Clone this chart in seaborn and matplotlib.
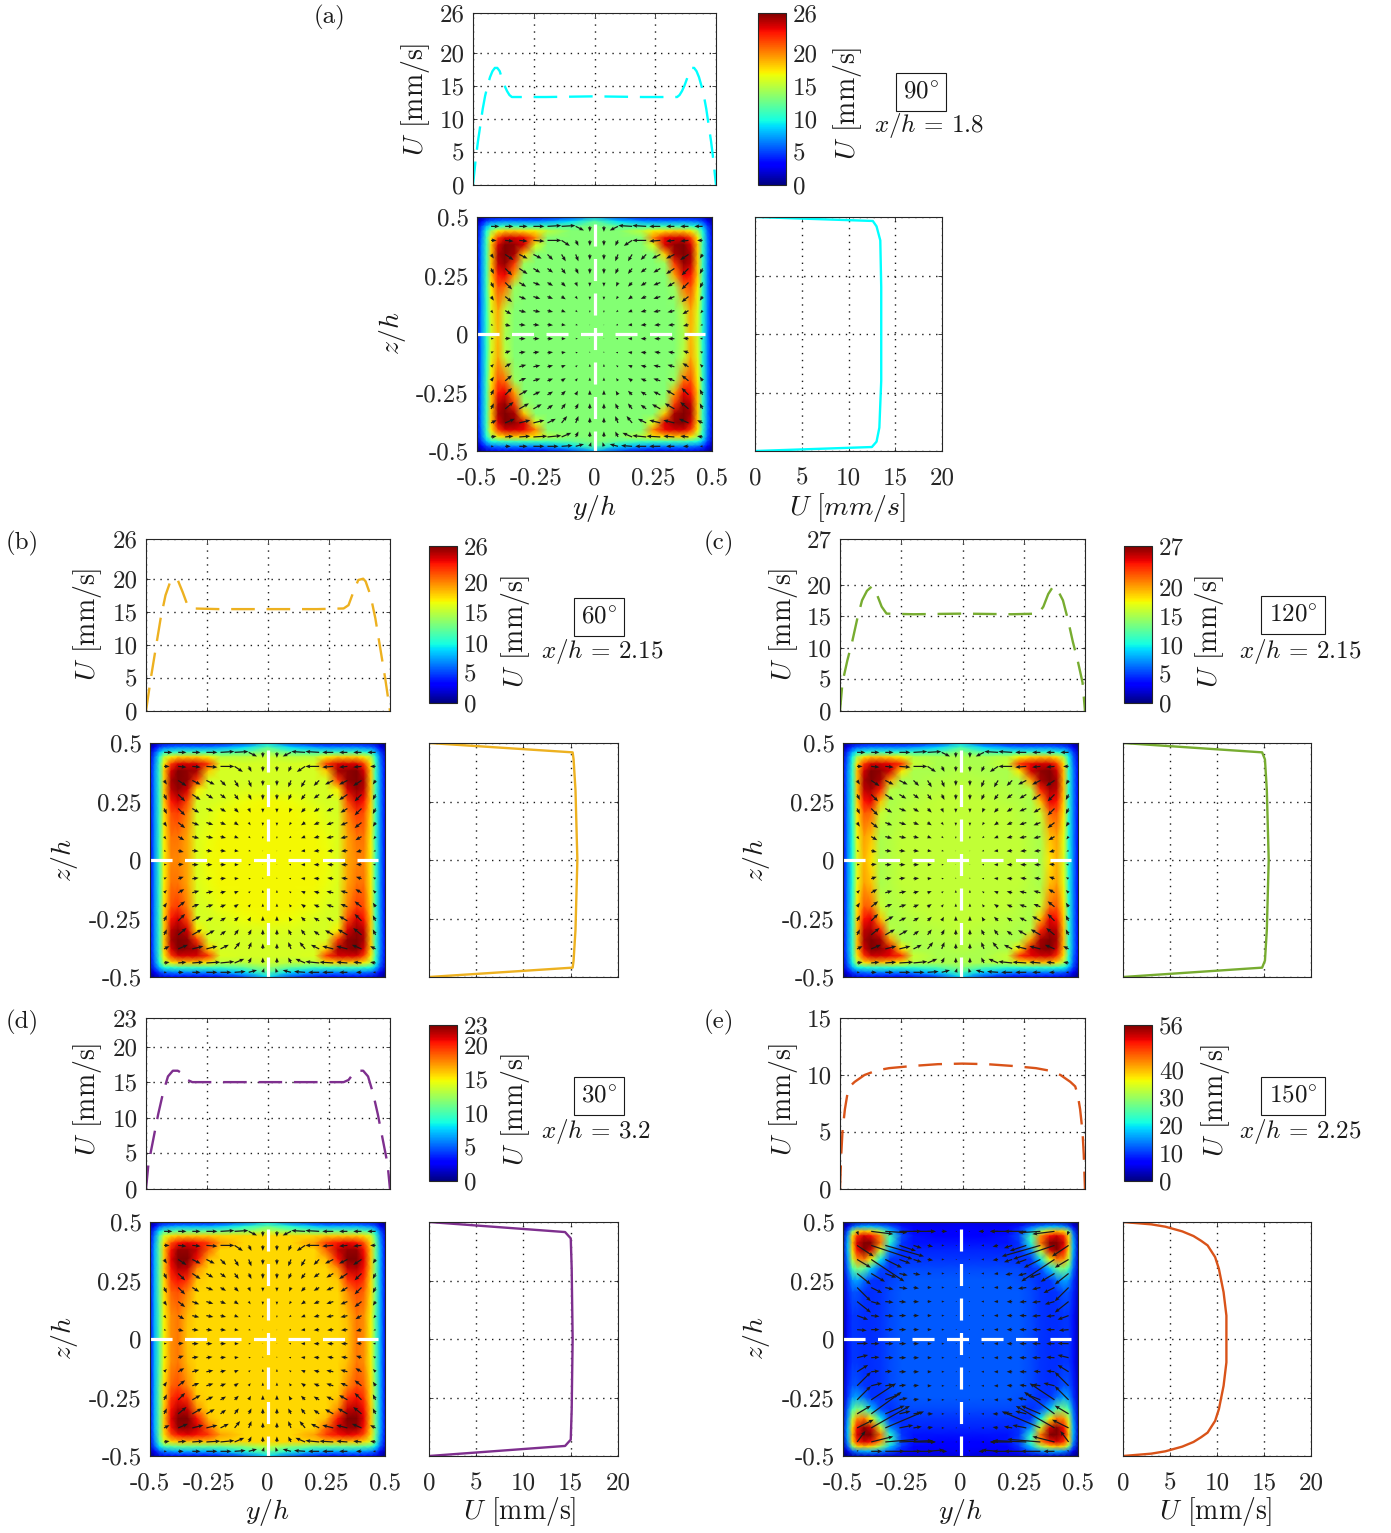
import matplotlib
matplotlib.use('Agg')
import matplotlib.pyplot as plt
import numpy as np
import seaborn as sns

sns.set_theme(style='ticks')
plt.rcParams['font.family'] = 'cmr10'
plt.rcParams['mathtext.fontset'] = 'cm'
plt.rcParams['axes.formatter.use_mathtext'] = True
plt.rcParams['axes.unicode_minus'] = False

W, H = 1391, 1533

# ---- line profiles: U along y at z=0 (dashed) and along z at y=0 (solid)
y_a = [-.5, -.49, -.48, -.47, -.46, -.45, -.44, -.43, -.42, -.41, -.40, -.39, -.38, -.37, -.36, -.35, -.34, -.2, 0,
       .2, .34, .35, .36, .37, .38, .39, .40, .41, .42, .43, .44, .45, .46, .47, .48, .49, .5]
u_a = [0, 3.5, 6.5, 9, 11.5, 13.5, 15, 16.3, 17.2, 17.7, 17.7, 17.2, 16, 15, 14.2, 13.6, 13.3, 13.3, 13.4,
       13.3, 13.3, 13.6, 14.2, 15, 16, 17.2, 17.7, 17.7, 17.2, 16.3, 15, 13.5, 11.5, 9, 6.5, 3.5, 0]
y_b = [-.5, -.48, -.46, -.44, -.42, -.40, -.39, -.37, -.35, -.33, -.31, -.2, 0,
       .2, .31, .33, .35, .37, .39, .40, .42, .44, .46, .48, .5]
u_b = [0, 5, 9.5, 14, 17.5, 19.6, 20, 19.8, 18, 16, 15.5, 15.4, 15.4,
       15.4, 15.5, 16, 18, 19.8, 20, 19.6, 17.5, 14, 9.5, 5, 0]
y_c = [-.5, -.49, -.47, -.45, -.43, -.41, -.39, -.37, -.35, -.33, -.31, -.2, 0,
       .2, .31, .33, .35, .37, .39, .41, .43, .45, .47, .49, .5]
u_c = [0, 4.5, 8, 11, 14.5, 17.5, 19, 19.7, 18.5, 16.5, 15.4, 15.3, 15.4,
       15.3, 15.4, 16.5, 18.5, 19.7, 19, 17.5, 14.5, 11, 8, 4.5, 0]
y_d = [-.5, -.49, -.47, -.45, -.43, -.41, -.39, -.37, -.35, -.33, -.31, -.2, 0,
       .2, .31, .33, .35, .37, .39, .41, .43, .45, .47, .49, .5]
u_d = [0, 3.5, 7, 10.5, 13.5, 15.8, 16.6, 16.6, 16.2, 15.3, 15, 15, 15,
       15, 15, 15.3, 16.2, 16.6, 16.6, 15.8, 13.5, 10.5, 7, 3.5, 0]
y_e = [-.5, -.495, -.49, -.48, -.47, -.46, -.44, -.42, -.40, -.35, -.3, -.2, -.1, 0,
       .1, .2, .3, .35, .40, .42, .44, .46, .47, .48, .49, .495, .5]
u_e = [0, 3, 5, 7, 8.3, 9, 9.4, 9.7, 10, 10.4, 10.6, 10.8, 10.95, 11,
       10.95, 10.8, 10.6, 10.4, 10, 9.7, 9.4, 9, 8.3, 7, 5, 3, 0]

z_a = [-.5, -.483, -.46, -.40, -.2, 0, .2, .40, .46, .483, .5]
w_a = [0, 12.5, 13, 13.3, 13.5, 13.5, 13.5, 13.4, 13, 12.6, 0]
z_b = [-.5, -.46, -.43, -.3, 0, .3, .43, .46, .5]
w_b = [0, 15.2, 15.3, 15.5, 15.7, 15.5, 15.3, 15.2, 0]
z_c = [-.5, -.46, -.43, -.3, 0, .3, .43, .46, .5]
w_c = [0, 14.8, 15.1, 15.3, 15.5, 15.3, 15.1, 14.8, 0]
z_d = [-.5, -.457, -.43, -.3, 0, .3, .43, .457, .5]
w_d = [0, 14.4, 15, 15.1, 15.2, 15.1, 15, 14.4, 0]
z_e = [-.5, -.49, -.48, -.46, -.44, -.42, -.40, -.35, -.3, -.2, -.1, 0,
       .1, .2, .3, .35, .40, .42, .44, .46, .48, .49, .5]
w_e = [0, 3, 4.5, 6.3, 7.5, 8.3, 9, 9.8, 10.2, 10.7, 11, 11,
       11, 10.7, 10.2, 9.8, 9, 8.3, 7.5, 6.3, 4.5, 3, 0]

# ---- U field, one corner quadrant per case
wall_dist = [0, .02, .04, .06, .09, .12, .16, .20, .25, .30, .40, .50]
field_a = [
    [0, 1, 2, 2.5, 3, 3, 3, 3, 3, 3.5, 5, 8],
    [1, 3, 5, 6, 6.5, 7, 7, 7, 7, 7.5, 9, 12],
    [2, 5, 8, 10, 10.5, 11, 11, 11, 11, 11, 12, 13.3],
    [2.5, 6, 10, 14, 17, 18, 18, 17.5, 17, 15, 13.3, 13.3],
    [3, 6.5, 11, 17, 22, 24, 24, 23.5, 20, 13.3, 13.3, 13.3],
    [3, 7, 11, 18, 24, 26, 25.5, 24, 16, 13.3, 13.3, 13.3],
    [3, 7, 11, 18, 25, 26, 25, 18, 13.3, 13.3, 13.3, 13.3],
    [3, 7, 11, 18, 24.5, 25.5, 22, 14, 13.3, 13.3, 13.3, 13.3],
    [3, 7, 11, 18, 23, 23.5, 19, 13.3, 13.3, 13.3, 13.3, 13.3],
    [3, 7, 11, 17, 21.5, 20.5, 14, 13.3, 13.3, 13.3, 13.3, 13.3],
    [3, 7, 10.5, 16, 19, 15, 13.3, 13.3, 13.3, 13.3, 13.3, 13.3],
    [3, 7, 10.5, 15.5, 18.5, 14.5, 13.3, 13.3, 13.3, 13.3, 13.3, 13.3],
]
field_b = [
    [0, 1, 2, 2.5, 3, 3, 3, 3, 3, 3.5, 5, 9],
    [1, 3, 5, 6, 6.5, 7, 7, 7, 7, 7.5, 9, 12],
    [2, 5, 8, 10, 10.5, 11, 11, 11, 11, 11, 12, 14],
    [2.5, 6, 10, 15, 17, 18, 18, 18, 17, 15, 15, 15.5],
    [3, 6.5, 11, 17, 22, 24, 24, 24, 22, 16, 15.8, 15.8],
    [3, 7, 11, 18, 24, 26, 25.5, 25, 18, 15.8, 15.8, 15.8],
    [3, 7, 11, 18, 25, 26, 25.5, 22, 15.8, 15.8, 15.8, 15.8],
    [3, 7, 11, 18, 24.5, 25.5, 24, 17, 15.8, 15.8, 16, 16],
    [3, 7, 11, 18, 23, 24, 21.5, 15.8, 15.8, 16, 16.6, 16.8],
    [3, 7, 11, 17.5, 21.5, 22, 20, 15.8, 16, 16.6, 16.8, 16.8],
    [3, 7, 11, 17, 20.5, 20.5, 19, 16, 16.5, 16.8, 16.8, 16.8],
    [3, 7, 11, 17, 20, 20, 19, 16, 16.7, 16.8, 16.8, 16.8],
]
field_c = [
    [0, 1, 2, 2.5, 3, 3, 3, 3, 3, 3.5, 5, 9],
    [1, 3, 5, 6, 6.5, 7, 7, 7, 7, 7.5, 9, 12],
    [2, 5, 8, 10, 10.5, 11, 11, 11, 11, 11, 12, 14],
    [2.5, 6, 10, 15, 18, 19, 19, 18.5, 17.5, 15.5, 15, 15],
    [3, 6.5, 11, 18, 23, 25, 25, 24.5, 23, 16, 15, 15],
    [3, 7, 11, 19, 25, 27, 26.5, 25, 18, 15, 15, 15.3],
    [3, 7, 11, 19, 26, 27, 26, 20, 15, 15, 15.3, 15.5],
    [3, 7, 11, 19, 25.5, 26, 23.5, 15.5, 15, 15.3, 15.5, 15.8],
    [3, 7, 11, 18.5, 24, 24.5, 19, 15, 15.3, 15.5, 15.8, 15.8],
    [3, 7, 11, 18, 22, 21.5, 16, 15.2, 15.5, 15.8, 15.8, 15.8],
    [3, 7, 10.5, 17, 20, 19, 15, 15.3, 15.8, 15.8, 15.8, 15.8],
    [3, 7, 10.5, 16.5, 19.5, 18, 15, 15.3, 15.8, 15.8, 15.8, 15.8],
]
field_d = [
    [0, 1, 2, 2.5, 3, 3, 3, 3, 3, 3.5, 5, 8],
    [1, 3, 5, 6, 6.5, 7, 7, 7, 7, 7.5, 9, 11],
    [2, 5, 8, 10, 10.5, 11, 11, 11, 11, 11, 12, 13.5],
    [2.5, 6, 10, 14, 15.5, 16, 16, 16, 16, 15.7, 15.7, 15.7],
    [3, 6.5, 11, 15.5, 19, 20.5, 21, 20.5, 19.5, 17, 15.7, 15.7],
    [3, 7, 11, 16, 20.5, 22.5, 22.5, 21.5, 18.5, 15.7, 15.7, 15.7],
    [3, 7, 11, 16, 21, 23, 23, 20.5, 16.3, 15.7, 15.7, 15.7],
    [3, 7, 11, 16, 20.5, 22, 21.5, 17.5, 15.7, 15.7, 15.7, 15.7],
    [3, 7, 11, 15.5, 19.5, 20.5, 19.5, 16, 15.7, 15.7, 15.7, 15.7],
    [3, 7, 11, 15.5, 18.5, 19, 17.5, 15.7, 15.7, 15.7, 15.7, 15.7],
    [3, 7, 10.5, 15, 17.5, 18, 16.3, 15.7, 15.7, 15.7, 15.7, 15.7],
    [3, 7, 10.5, 15, 17.5, 18, 16, 15.7, 15.7, 15.7, 15.7, 15.7],
]
field_e = [
    [0, 1, 2, 3, 3.5, 4, 4, 4, 4, 4, 4.5, 5],
    [1, 6, 12, 15, 17, 17, 15, 12, 8, 6, 5.5, 6],
    [2, 12, 28, 38, 40, 38, 30, 18, 10, 7, 6.5, 6.5],
    [3, 15, 38, 48, 52, 50, 42, 24, 11, 8, 7, 7],
    [3.5, 17, 40, 52, 56, 56, 44, 22, 10, 8, 8, 8],
    [3.5, 17, 38, 50, 56, 52, 34, 15, 9.5, 9, 9, 9],
    [3.5, 15, 33, 42, 44, 36, 20, 10, 9.5, 10, 10, 10],
    [3.5, 13, 24, 28, 26, 18, 11, 9.5, 11, 11, 11, 11],
    [3.5, 10, 15, 16, 13, 10, 9.5, 10.5, 11.5, 12, 12, 12],
    [3.5, 9, 11.5, 11.5, 10, 9.5, 10, 11, 12, 12, 12, 12],
    [3, 8, 10, 10, 9.5, 9.5, 10, 11, 12, 12, 12, 12],
    [3, 8, 10, 10, 9.5, 9.5, 10, 11, 12, 12, 12, 12],
]

# ---- secondary flow arrows, left half (right half is mirrored), in 1/100 h
arrow_y = [-.44, -.38, -.32, -.26, -.20, -.14, -.08, -.02]
arrow_z = [.46, .40, .34, .28, .22, .16, .10, .04, -.02, -.08, -.14, -.20, -.26, -.32, -.38, -.44, -.48]
du_jet = [
    [3, 3, 3, 4, 5, 5, 3, 0],
    [2, 3, 3, 4, 5, 3, 1, 0],
    [1, 3, 3, 3, 2, 1.5, 1, 0],
    [1, 2.5, 3, 2.5, 2, 1.5, 1, 0],
    [1, 2.5, 2.5, 2.5, 2, 1.5, .7, 0],
    [1, 2.5, 2.5, 2.5, 2, 1.5, .7, 0],
    [.8, 2.2, 2.5, 2.5, 2, 1.5, .7, 0],
    [.8, 2, 2.3, 2.2, 2, 1.5, .8, 0],
    [1, 2, 2.3, 2.2, 2, 1.5, .8, .2],
    [1, 2, 2.3, 2.2, 2, 1.5, .8, 0],
    [1, 2.2, 2.5, 2.5, 2, 1.5, .7, 0],
    [1, 2.5, 2.5, 2.5, 2, 1.5, .7, 0],
    [1, 2.5, 3, 2.5, 2, 1.5, .8, 0],
    [1, 3, 3.5, 3, 2, 1.5, 1, 0],
    [2, 3.5, 4, 4, 3, 2, 1, 0],
    [2, 3, 4, 5, 5, 3.5, 1, 0],
    [1, 2, 3, 4, 4, 4, 3, .5],
]
dv_jet = [
    [0, 0, 0, 0, .3, .3, -1.5, -2],
    [0, -.3, -.3, -.3, 0, -2, -2, -2],
    [-1.5, -2, -1.5, -1.5, -2, -2.5, -2.5, -2],
    [-2, -2.5, -2, -1.5, -1.5, -2, -2, -2],
    [-2, -2.5, -1.5, -1, -1.2, -1.5, -1.5, -1.5],
    [-1.5, -2, -1, -.8, -.8, -1, -1, -1.2],
    [-1, -1.3, -.6, -.5, -.5, -.6, -.6, -.8],
    [-.3, -.5, -.2, -.2, -.2, -.2, -.2, -.3],
    [.1, .2, 0, 0, 0, 0, 0, 0],
    [.5, .7, .3, .3, .2, .2, .2, .5],
    [1, 1.3, .7, .5, .5, .6, .6, 1],
    [1.5, 2, 1, .8, .8, 1, 1, 1.2],
    [2, 2.5, 1.7, 1.2, 1.2, 1.5, 1.5, 1.7],
    [2, 2.5, 2, 1.7, 1.5, 2, 2, 2],
    [1, 1.5, 1, 1, 1.5, 2.5, 2.5, 2],
    [.3, .3, .3, .3, .5, 1.5, 2, 2],
    [0, 0, 0, 0, 0, .3, .8, 1.5],
]
du_e = [
    [.5, 8, 8, 8, 8, 3, 2, .5],
    [6, 15, 14, 6, 3, 2, 1, .5],
    [5, 12, 6, 4, 3, 2, 1, .5],
    [5, 5, 4, 3, 2.5, 1.5, 1, .5],
    [5, 4, 3, 3, 2, 1.5, 1, .5],
    [5, 3.5, 3, 2.5, 2, 1.5, 1, .5],
    [4, 3, 3, 2.5, 2, 1.5, 1, .5],
    [3.5, 3, 3, 2.5, 2, 1.5, 1, .5],
    [4, 3, 3, 2.5, 2, 1.5, 1, .5],
    [4, 3, 3, 2.5, 2, 1.5, 1, .5],
    [4, 3, 2.5, 2.5, 2, 1.5, 1, .5],
    [5, 4, 3, 2.5, 2, 1.5, 1, .5],
    [5, 9, 5, 3, 2, 1.5, 1, .5],
    [5, 11, 7, 4, 3, 2, 1, .5],
    [6, 14, 14, 5, 3, 2, 1, .5],
    [3, 8, 12, 12, 8, 3, 1, .5],
    [.5, 4, 7, 8, 7, 6, 2, .5],
]
dv_e = [
    [-1.5, -1, -.5, 0, 0, 0, 0, 0],
    [-4, -5, -4, -2, -1, -.5, 0, 0],
    [-3, -8, -3, -1.5, -1, -.3, 0, 0],
    [-4, -3, -1.5, -.7, -.5, -.2, 0, 0],
    [-5, -2, -.7, -.4, -.3, 0, 0, 0],
    [-4, -1, -.3, -.2, -.1, 0, 0, 0],
    [-1.5, -.3, -.2, 0, 0, 0, 0, 0],
    [-.3, 0, 0, 0, 0, 0, 0, 0],
    [.1, 0, 0, 0, 0, 0, 0, 0],
    [1, .2, 0, 0, 0, 0, 0, 0],
    [2.5, .3, .2, 0, 0, 0, 0, 0],
    [5, 1, .5, .3, .2, 0, 0, 0],
    [5, 6, 2, .7, .3, 0, 0, 0],
    [3, 8, 3, 1, .5, 0, 0, 0],
    [3, 8, 6, 1, .5, .3, 0, 0],
    [4, 2, 1, .5, 0, 0, 0, 0],
    [.5, 0, 0, 0, 0, .5, 0, .5],
]

pos_ticks = [-.5, -.25, 0, .25, .5]
pos_labels = ['-0.5', '-0.25', '0', '0.25', '0.5']
u_ticks = [0, 5, 10, 15, 20]
u_labels = ['0', '5', '10', '15', '20']

# layout of each case in reference pixels
panels = [
    dict(tag='(a)', tag_xy=(330, 17), color='#00FFFF', y=y_a, u=u_a, z=z_a, w=w_a, q=field_a,
         du=du_jet, dv=dv_jet, top=(473, 13, 716, 185), fld=(477, 217, 712, 451), rgt=(755, 217, 942, 451),
         cb=(758, 13, 786, 185), ylim=26, top_t=[0, 5, 10, 15, 20, 26], top_l=['0', '5', '10', '15', '20', '26'],
         vmax=26, cb_t=[0, 5, 10, 15, 20, 26], cb_l=['0', '5', '10', '15', '20', '26'],
         ang='90', xh='1.8', lab_top=(415, 99), lab_z=(392, 333), lab_cb=(848, 103), box=(921, 92), xh_xy=(929, 126),
         lab_y=(594, 508), lab_u=(847, 508), u_txt=r'$U\ [mm/s]$'),
    dict(tag='(b)', tag_xy=(22, 543), color='#EDB120', y=y_b, u=u_b, z=z_b, w=w_b, q=field_b,
         du=du_jet, dv=dv_jet, top=(146, 539, 390, 711), fld=(150, 743, 385, 977), rgt=(429, 743, 618, 977),
         cb=(429, 546, 457, 703), ylim=26, top_t=[0, 5, 10, 15, 20, 26], top_l=['0', '5', '10', '15', '20', '26'],
         vmax=26, cb_t=[0, 5, 10, 15, 20, 26], cb_l=['0', '5', '10', '15', '20', '26'],
         ang='60', xh='2.15', lab_top=(88, 624), lab_z=(64, 860), lab_cb=(515, 631), box=(599, 617), xh_xy=(602, 652)),
    dict(tag='(c)', tag_xy=(719, 543), color='#77AC30', y=y_c, u=u_c, z=z_c, w=w_c, q=field_c,
         du=du_jet, dv=dv_jet, top=(840, 539, 1085, 711), fld=(843, 743, 1078, 977), rgt=(1123, 743, 1311, 977),
         cb=(1124, 546, 1152, 703), ylim=27.2, top_t=[0, 5, 10, 15, 20, 27.2], top_l=['0', '5', '10', '15', '20', '27'],
         vmax=27, cb_t=[0, 5, 10, 15, 20, 27], cb_l=['0', '5', '10', '15', '20', '27'],
         ang='120', xh='2.15', lab_top=(783, 624), lab_z=(757, 860), lab_cb=(1209, 631), box=(1293, 615), xh_xy=(1300, 652)),
    dict(tag='(d)', tag_xy=(22, 1022), color='#7E2F8E', y=y_d, u=u_d, z=z_d, w=w_d, q=field_d,
         du=du_jet, dv=dv_jet, top=(146, 1018, 390, 1189), fld=(150, 1222, 385, 1456), rgt=(429, 1222, 618, 1456),
         cb=(429, 1025, 457, 1181), ylim=24, top_t=[0, 5, 10, 15, 20, 24], top_l=['0', '5', '10', '15', '20', '23'],
         vmax=23, cb_t=[0, 5, 10, 15, 20, 23], cb_l=['0', '5', '10', '15', '20', '23'],
         ang='30', xh='3.2', lab_top=(88, 1099), lab_z=(64, 1338), lab_cb=(515, 1109), box=(599, 1096), xh_xy=(596, 1131),
         lab_y=(267, 1512), lab_u=(520, 1512), u_txt=r'$U$ [mm/s]'),
    dict(tag='(e)', tag_xy=(719, 1022), color='#D95319', y=y_e, u=u_e, z=z_e, w=w_e, q=field_e,
         du=du_e, dv=dv_e, top=(840, 1018, 1085, 1189), fld=(843, 1222, 1078, 1456), rgt=(1123, 1222, 1311, 1456),
         cb=(1124, 1025, 1152, 1181), ylim=15, top_t=[0, 5, 10, 15], top_l=['0', '5', '10', '15'],
         vmax=56, cb_t=[0, 10, 20, 30, 40, 56], cb_l=['0', '10', '20', '30', '40', '56'],
         ang='150', xh='2.25', lab_top=(783, 1099), lab_z=(757, 1338), lab_cb=(1216, 1100), box=(1293, 1096), xh_xy=(1300, 1131),
         lab_y=(960, 1512), lab_u=(1216, 1512), u_txt=r'$U$ [mm/s]'),
]

fig = plt.figure(figsize=(W / 100, H / 100), dpi=100)
FS = 18
DARK = '#262626'


def add_axes(box):
    x0, y0, x1, y1 = box
    return fig.add_axes([x0 / W, 1 - y1 / H, (x1 - x0) / W, (y1 - y0) / H])


def put(xy, s, **kw):
    return fig.text(xy[0] / W, 1 - xy[1] / H, s, ha='center', va='center', fontsize=kw.pop('fontsize', FS), color='k', **kw)


def style(ax):
    ax.tick_params(direction='in', length=3, width=.6, top=True, right=True, color=DARK,
                   labelsize=FS, labelcolor=DARK)
    ax.tick_params(axis='x', pad=12)
    ax.tick_params(axis='y', pad=6)
    for s in ax.spines.values():
        s.set_linewidth(.8)
        s.set_color(DARK)


for p in panels:
    # top dashed profile
    ax = add_axes(p['top'])
    sns.lineplot(x=p['y'], y=p['u'], color=p['color'], linewidth=1.7, linestyle=(0, (10, 5)),
                 estimator=None, sort=False, ax=ax)
    ax.set_xlim(-.5, .5)
    ax.set_ylim(0, p['ylim'])
    ax.set_xticks(pos_ticks)
    ax.set_xticklabels([])
    ax.set_yticks(p['top_t'])
    ax.set_yticklabels(p['top_l'])
    ax.grid(True, color='k', linestyle=(0, (1, 4)), linewidth=1)
    style(ax)

    # field, mirrored from the corner quadrant
    ax = add_axes(p['fld'])
    q = np.array(p['q'], dtype=float)
    half = np.hstack([q, q[:, -2::-1]])
    full = np.vstack([half, half[-2::-1]])
    d = np.array(wall_dist)
    ys = np.concatenate([-.5 + d, (.5 - d)[-2::-1]])
    zs = ys[::-1]
    mesh = ax.pcolormesh(ys, zs, full, shading='gouraud', cmap='jet', vmin=0, vmax=p['vmax'], rasterized=True)
    ax.set_xlim(-.5, .5)
    ax.set_ylim(-.5, .5)

    du = np.array(p['du'], dtype=float)
    dv = np.array(p['dv'], dtype=float)
    ay = np.array(arrow_y)
    az = np.array(arrow_z)
    qy = np.concatenate([ay, -ay[::-1] + .02])
    qu = np.hstack([du, -du[:, ::-1]])
    qv = np.hstack([dv, dv[:, ::-1]])
    qx, qz = np.meshgrid(qy, az)
    ax.quiver(qx, qz, qu, qv, angles='xy', scale_units='xy', scale=85, color='k', pivot='tail',
              width=.0052, headwidth=3.2, headlength=4, headaxislength=3.5, minlength=.5)
    ax.plot([-.5, .47], [0, 0], color='w', linewidth=2.3, linestyle=(0, (6.9, 3.9)))
    ax.plot([0, 0], [.47, -.5], color='w', linewidth=2.3, linestyle=(0, (6.9, 3.9)))
    ax.set_xticks(pos_ticks)
    ax.set_yticks(pos_ticks)
    ax.set_yticklabels(pos_labels)
    if 'lab_y' in p:
        ax.set_xticklabels(pos_labels)
    else:
        ax.set_xticklabels([])
    style(ax)

    # solid profile at the right
    ax = add_axes(p['rgt'])
    sns.lineplot(x=p['w'], y=p['z'], color=p['color'], linewidth=1.7, estimator=None, sort=False, ax=ax)
    ax.set_xlim(0, 20)
    ax.set_ylim(-.5, .5)
    ax.set_xticks(u_ticks)
    ax.set_yticks(pos_ticks)
    ax.set_yticklabels([])
    if 'lab_u' in p:
        ax.set_xticklabels(u_labels)
    else:
        ax.set_xticklabels([])
    ax.grid(True, color='k', linestyle=(0, (1, 4)), linewidth=1)
    style(ax)

    # colorbar
    cax = add_axes(p['cb'])
    cb = fig.colorbar(mesh, cax=cax)
    cb.set_ticks(p['cb_t'])
    cb.set_ticklabels(p['cb_l'])
    cb.ax.tick_params(direction='in', length=3, width=.6, color=DARK, labelsize=FS, labelcolor=DARK, pad=5)
    cb.outline.set_linewidth(.8)
    cb.outline.set_edgecolor(DARK)

    # labels
    put(p['tag_xy'], p['tag'])
    put(p['lab_top'], r'$U$ [mm/s]', rotation=90, fontsize=20)
    put(p['lab_cb'], r'$U$ [mm/s]', rotation=90, fontsize=20)
    put(p['lab_z'], r'$z/h$', rotation=90, fontsize=20)
    put(p['box'], p['ang'] + r'$^{\circ}$', fontsize=FS,
        bbox=dict(boxstyle='square,pad=0.3', facecolor='w', edgecolor='k', linewidth=.8))
    put(p['xh_xy'], r'$x/h$ = ' + p['xh'], fontsize=18)
    if 'lab_y' in p:
        put(p['lab_y'], r'$y/h$', fontsize=20)
        put(p['lab_u'], p['u_txt'], fontsize=20)

fig.savefig('out.png', dpi=100)
